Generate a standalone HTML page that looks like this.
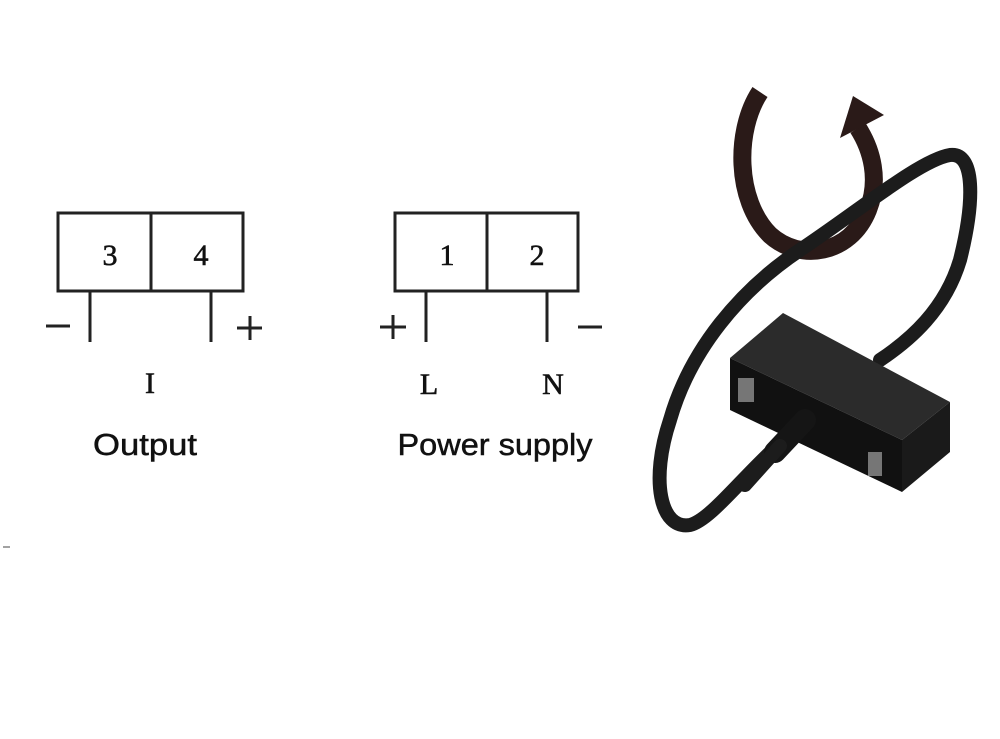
<!DOCTYPE html>
<html><head><meta charset="utf-8"><style>
html,body{margin:0;padding:0;background:#fff;}
svg{display:block;}
</style></head><body>
<svg width="1000" height="739" viewBox="0 0 1000 739" xmlns="http://www.w3.org/2000/svg">
<rect width="1000" height="739" fill="#fff"/>
<g stroke="#222" stroke-width="3" fill="none">
<rect x="58" y="213" width="185" height="78"/>
<line x1="151" y1="213" x2="151" y2="291"/>
<line x1="90" y1="291" x2="90" y2="342"/>
<line x1="211" y1="291" x2="211" y2="342"/>
<line x1="46" y1="326" x2="70" y2="326"/>
<line x1="237" y1="328" x2="262" y2="328"/>
<line x1="250" y1="316" x2="250" y2="340"/>
<rect x="395" y="213" width="183" height="78"/>
<line x1="487" y1="213" x2="487" y2="291"/>
<line x1="426" y1="291" x2="426" y2="342"/>
<line x1="547" y1="291" x2="547" y2="342"/>
<line x1="380" y1="327" x2="406" y2="327"/>
<line x1="393" y1="315" x2="393" y2="339"/>
<line x1="578" y1="327" x2="602" y2="327"/>
</g>
<g font-family="Liberation Serif, serif" font-size="30" fill="#111" text-anchor="middle" stroke="#111" stroke-width="0.6">
<text x="110" y="265">3</text>
<text x="201" y="265">4</text>
<text x="447" y="265">1</text>
<text x="537" y="265">2</text>
<text x="150" y="393">I</text>
<text x="429" y="394">L</text>
<text x="553" y="394">N</text>
</g>
<g font-family="Liberation Sans, sans-serif" font-size="31" fill="#111" text-anchor="middle" stroke="#111" stroke-width="0.5">
<text x="145" y="455" textLength="104" lengthAdjust="spacingAndGlyphs">Output</text>
<text x="495" y="455" textLength="195" lengthAdjust="spacingAndGlyphs">Power supply</text>
</g>
<!-- rotation arrow -->
<path d="M760 92 C735 130 735 200 770 235 C800 262 850 255 868 210 C880 180 872 150 858 128" stroke="#2a1a18" stroke-width="18" fill="none"/>
<polygon points="840,138 853,96 884,115" fill="#2a1a18"/>
<!-- cable loop -->
<path d="M775 448 C740 480 710 520 690 525 C660 530 650 480 670 420 C690 350 740 290 800 250 C860 210 920 160 950 155 C975 152 975 200 960 260 C945 310 910 340 880 360" stroke="#1c1c1c" stroke-width="14" fill="none" stroke-linecap="round"/>
<!-- box -->
<polygon points="730,358 783,313 950,402 902,440" fill="#2b2b2b"/>
<polygon points="730,358 902,440 902,492 730,410" fill="#111"/>
<polygon points="902,440 950,402 950,452 902,492" fill="#1a1a1a"/>
<rect x="738" y="378" width="16" height="24" fill="#bbb" opacity="0.6"/>
<rect x="868" y="452" width="14" height="24" fill="#bbb" opacity="0.6"/>
<path d="M805 420 L775 452" stroke="#151515" stroke-width="22" stroke-linecap="round"/>
<path d="M780 446 L745 485" stroke="#1c1c1c" stroke-width="14" stroke-linecap="round"/>
<line x1="3" y1="547" x2="10" y2="547" stroke="#444" stroke-width="1"/>
</svg>
</body></html>
